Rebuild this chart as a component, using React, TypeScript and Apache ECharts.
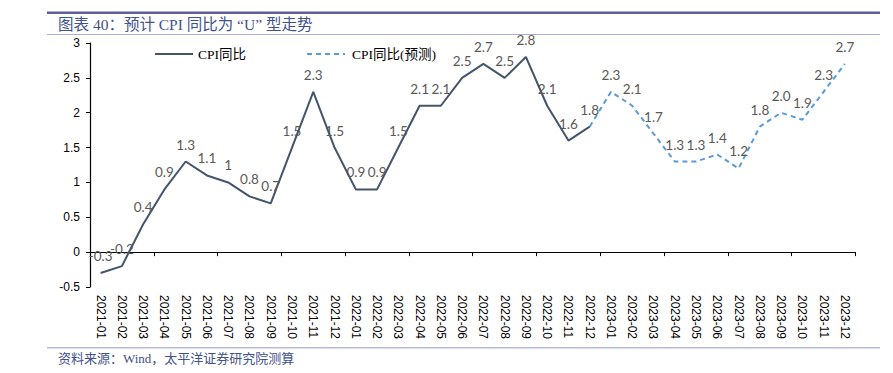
import React, { useEffect, useRef } from "react";
import * as echarts from "echarts";

const months = [
  "2021-01", "2021-02", "2021-03", "2021-04", "2021-05", "2021-06",
  "2021-07", "2021-08", "2021-09", "2021-10", "2021-11", "2021-12",
  "2022-01", "2022-02", "2022-03", "2022-04", "2022-05", "2022-06",
  "2022-07", "2022-08", "2022-09", "2022-10", "2022-11", "2022-12",
  "2023-01", "2023-02", "2023-03", "2023-04", "2023-05", "2023-06",
  "2023-07", "2023-08", "2023-09", "2023-10", "2023-11", "2023-12",
];

// 2021-01 .. 2022-12
const actualValues = [
  -0.3, -0.2, 0.4, 0.9, 1.3, 1.1, 1, 0.8, 0.7, 1.5, 2.3, 1.5,
  0.9, 0.9, 1.5, 2.1, 2.1, 2.5, 2.7, 2.5, 2.8, 2.1, 1.6, 1.8,
];

// 2022-12 .. 2023-12
const forecastStart = "2022-12";
const forecastValues = [1.8, 2.3, 2.1, 1.7, 1.3, 1.3, 1.4, 1.2, 1.8, 2.0, 1.9, 2.3, 2.7];

const yTicks = { min: -0.5, max: 3, interval: 0.5 };

const titleText = "图表 40：预计 CPI 同比为 “U” 型走势";
const sourceText = "资料来源：Wind，太平洋证券研究院测算";
const seriesNames = ["CPI同比", "CPI同比(预测)"];

export default function App() {
  const ref = useRef<HTMLDivElement>(null);

  useEffect(() => {
    if (!ref.current) return;
    const chart = echarts.init(ref.current, null, { renderer: "svg" });

    const fStart = months.indexOf(forecastStart);
    const actualData = months.map((_, i) => (i < actualValues.length ? actualValues[i] : "-"));
    const forecastData = months.map((_, i) =>
      i >= fStart && i - fStart < forecastValues.length ? forecastValues[i - fStart] : "-"
    );

    const labelFont = "Lato, 'Open Sans', sans-serif";
    const serifFont = "'Liberation Serif', 'Times New Roman', 'Noto Sans CJK SC', serif";
    const titleColor = "#3F528C";
    const actualColor = "#44546A";
    const forecastColor = "#5B9BD5";
    const labelColor = "#595959";

    chart.setOption({
      animation: false,
      backgroundColor: "#ffffff",
      grid: { left: 90, right: 37.5, top: 43, bottom: 86, containLabel: false },
      xAxis: [
        {
          type: "category",
          data: months,
          boundaryGap: true,
          axisLine: { onZero: true, lineStyle: { color: "#000", width: 1.2 } },
          axisTick: { show: true, length: 4, lineStyle: { color: "#000" } },
          axisLabel: { show: false },
          splitLine: { show: false },
        },
        {
          type: "category",
          data: months,
          position: "bottom",
          boundaryGap: true,
          axisLine: { show: false, onZero: false },
          axisTick: { show: false },
          axisLabel: {
            show: true,
            rotate: -90,
            interval: 0,
            margin: 8,
            fontSize: 12,
            color: "#000",
            fontFamily: "'Liberation Sans', Arial, sans-serif",
          },
          splitLine: { show: false },
        },
      ],
      yAxis: {
        type: "value",
        min: yTicks.min,
        max: yTicks.max,
        interval: yTicks.interval,
        axisLine: { show: true, lineStyle: { color: "#000", width: 1.2 } },
        axisTick: { show: true, length: 4, lineStyle: { color: "#000" } },
        axisLabel: {
          fontSize: 12,
          color: "#000",
          margin: 10,
          fontFamily: "'Liberation Sans', Arial, sans-serif",
        },
        splitLine: { show: false },
      },
      series: [
        {
          name: seriesNames[0],
          type: "line",
          xAxisIndex: 0,
          data: actualData,
          symbol: "circle",
          symbolSize: 0.01,
          showSymbol: true,
          lineStyle: { color: actualColor, width: 2 },
          itemStyle: { color: actualColor, opacity: 0 },
          label: {
            show: true,
            position: "top",
            distance: 10,
            fontSize: 13.5,
            color: labelColor,
            opacity: 1,
            fontFamily: labelFont,
          },
          z: 3,
        },
        {
          name: seriesNames[1],
          type: "line",
          xAxisIndex: 0,
          data: forecastData,
          symbol: "circle",
          symbolSize: 0.01,
          showSymbol: true,
          lineStyle: { color: forecastColor, width: 2, type: [5, 4] },
          itemStyle: { color: forecastColor, opacity: 0 },
          label: {
            show: true,
            position: "top",
            distance: 10,
            fontSize: 13.5,
            color: labelColor,
            opacity: 1,
            fontFamily: labelFont,
            formatter: (p: any) =>
              p.dataIndex === fStart ? "" : Number(p.value).toFixed(1),
          },
          z: 2,
        },
      ],
      graphic: [
        { type: "rect", silent: true, shape: { x: 47, y: 11.5, width: 833, height: 2.5 }, style: { fill: "#5E609A" } },
        { type: "rect", silent: true, shape: { x: 47, y: 34, width: 833, height: 1 }, style: { fill: "#ABADD2" } },
        { type: "rect", silent: true, shape: { x: 47, y: 347, width: 833, height: 1.5 }, style: { fill: "#B9BBDA" } },
        {
          type: "text",
          silent: true,
          x: 58,
          y: 24,
          style: {
            text: titleText,
            fontSize: 15.5,
            fill: titleColor,
            fontFamily: serifFont,
            verticalAlign: "middle",
            align: "left",
          },
        },
        {
          type: "text",
          silent: true,
          x: 58,
          y: 358,
          style: {
            text: sourceText,
            fontSize: 13,
            fill: titleColor,
            fontFamily: serifFont,
            verticalAlign: "middle",
            align: "left",
          },
        },
        // legend
        {
          type: "line",
          silent: true,
          shape: { x1: 155, y1: 54, x2: 193, y2: 54 },
          style: { stroke: actualColor, lineWidth: 2 },
        },
        {
          type: "text",
          silent: true,
          x: 198,
          y: 54,
          style: {
            text: seriesNames[0],
            fontSize: 13.5,
            fill: "#000",
            fontFamily: serifFont,
            verticalAlign: "middle",
          },
        },
        {
          type: "line",
          silent: true,
          shape: { x1: 307, y1: 54, x2: 345, y2: 54 },
          style: { stroke: forecastColor, lineWidth: 2, lineDash: [5, 4] },
        },
        {
          type: "text",
          silent: true,
          x: 352,
          y: 54,
          style: {
            text: seriesNames[1],
            fontSize: 13.5,
            fill: "#000",
            fontFamily: serifFont,
            verticalAlign: "middle",
          },
        },
      ],
    });

    return () => chart.dispose();
  }, []);

  return (
    <div
      ref={ref}
      style={{ position: "absolute", left: 0, top: 0, width: 893, height: 373 }}
    />
  );
}
